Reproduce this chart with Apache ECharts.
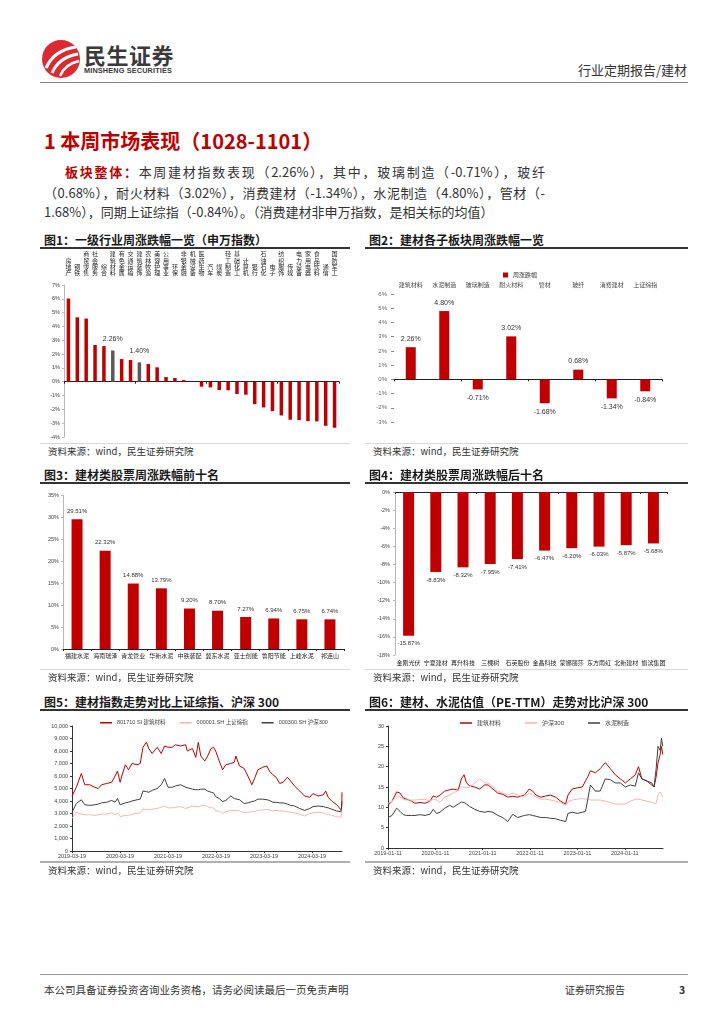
<!DOCTYPE html>
<html><head><meta charset="utf-8">
<script src="https://cdn.jsdelivr.net/npm/echarts@6/dist/echarts.min.js"></script>
<style>
body{margin:0;width:724px;height:1024px;background:#fff;position:relative;font-family:"Noto Sans CJK SC",sans-serif;overflow:hidden}
.abs{position:absolute}
.cap{position:absolute;font-size:12px;line-height:1;font-weight:bold;color:#1a1a1a;white-space:nowrap}
.capline{position:absolute;height:1.5px;background:#333}
.src{position:absolute;font-size:9.5px;line-height:1;color:#333;white-space:nowrap}
.srcline{position:absolute;height:1px;background:#d9d9d9}
.para{position:absolute;font-size:13px;line-height:1;color:#333;white-space:nowrap}
.jus{text-align:justify;text-align-last:justify}
.chart{position:absolute}
</style></head>
<body>
<svg class="abs" style="left:41px;top:39px" width="40" height="40" viewBox="0 0 40 40">
<circle cx="20" cy="20" r="19" fill="#dc2a32"/>
<path d="M5 29 Q13 11 35 8" stroke="#fff" stroke-width="3.2" fill="none"/>
<path d="M11 34 Q18 18 37 15" stroke="#fff" stroke-width="3" fill="none"/>
<path d="M19 37 Q24 25 38 22" stroke="#fff" stroke-width="2.4" fill="none"/>
</svg>
<div class="abs" style="left:84px;top:43px;font-size:22px;line-height:1;font-weight:bold;color:#3a3a3a;letter-spacing:0.5px">民生证券</div>
<div class="abs" style="left:84px;top:67px;font-size:7.3px;line-height:1;font-weight:bold;color:#3a3a3a;font-family:'Liberation Sans',sans-serif;letter-spacing:0.15px">MINSHENG SECURITIES</div>
<div class="abs" style="left:578px;top:63px;font-size:13px;line-height:1;color:#333;white-space:nowrap">行业定期报告/建材</div>
<div class="abs" style="left:40px;top:82px;width:648px;height:1px;background:#8a8a8a"></div>

<div class="abs" style="left:44px;top:131px;font-size:20px;line-height:1;font-weight:bold;color:#c00000;white-space:nowrap">1 本周市场表现（1028-1101）</div>

<div class="para jus" style="left:65px;top:165px;width:480px"><span style="color:#c00000;font-weight:bold">板块整体：</span>本周建材指数表现（2.26%），其中，玻璃制造（-0.71%），玻纤</div>
<div class="para jus" style="left:44px;top:186px;width:501px">（0.68%），耐火材料（3.02%），消费建材（-1.34%），水泥制造（4.80%），管材（-</div>
<div class="para" style="left:44px;top:205px">1.68%），同期上证综指（-0.84%）。（消费建材非申万指数，是相关标的均值）</div>

<div id="c1" class="chart" style="left:40px;top:250px;width:310px;height:192px"></div>
<div id="c2" class="chart" style="left:365px;top:250px;width:310px;height:190px"></div>
<div id="c3" class="chart" style="left:40px;top:483px;width:310px;height:185px"></div>
<div id="c4" class="chart" style="left:365px;top:483px;width:310px;height:190px"></div>
<div id="c5" class="chart" style="left:40px;top:713px;width:310px;height:150px"></div>
<div id="c6" class="chart" style="left:365px;top:713px;width:310px;height:150px"></div>

<div class="cap" style="left:44px;top:234px">图1：一级行业周涨跌幅一览（申万指数）</div>
<div class="capline" style="left:40px;top:247px;width:310px"></div>
<div class="cap" style="left:369px;top:234px">图2：建材各子板块周涨跌幅一览</div>
<div class="capline" style="left:365px;top:247px;width:323px"></div>
<div class="srcline" style="left:40px;top:443px;width:310px"></div>
<div class="srcline" style="left:365px;top:443px;width:323px"></div>
<div class="src" style="left:48px;top:447px">资料来源：wind，民生证券研究院</div>
<div class="src" style="left:373px;top:447px">资料来源：wind，民生证券研究院</div>

<div class="cap" style="left:44px;top:469px">图3：建材类股票周涨跌幅前十名</div>
<div class="capline" style="left:40px;top:482px;width:310px"></div>
<div class="cap" style="left:369px;top:469px">图4：建材类股票周涨跌幅后十名</div>
<div class="capline" style="left:365px;top:482px;width:323px"></div>
<div class="srcline" style="left:40px;top:669px;width:310px"></div>
<div class="srcline" style="left:365px;top:669px;width:323px"></div>
<div class="src" style="left:48px;top:673px">资料来源：wind，民生证券研究院</div>
<div class="src" style="left:373px;top:673px">资料来源：wind，民生证券研究院</div>

<div class="cap" style="left:44px;top:696px">图5：建材指数走势对比上证综指、沪深 300</div>
<div class="capline" style="left:40px;top:709px;width:310px"></div>
<div class="cap" style="left:369px;top:696px">图6：建材、水泥估值（PE-TTM）走势对比沪深 300</div>
<div class="capline" style="left:365px;top:709px;width:323px"></div>
<div class="srcline" style="left:40px;top:861px;width:310px;height:1.5px;background:#b0b0b0"></div>
<div class="srcline" style="left:365px;top:861px;width:323px;height:1.5px;background:#b0b0b0"></div>
<div class="src" style="left:48px;top:866px">资料来源：wind，民生证券研究院</div>
<div class="src" style="left:373px;top:866px">资料来源：wind，民生证券研究院</div>

<div class="abs" style="left:40px;top:974px;width:648px;height:1px;background:#999"></div>
<div class="abs" style="left:44px;top:985px;font-size:10.5px;line-height:1;color:#333;white-space:nowrap">本公司具备证券投资咨询业务资格，请务必阅读最后一页免责声明</div>
<div class="abs" style="left:565px;top:985px;font-size:10px;line-height:1;color:#333;white-space:nowrap">证券研究报告</div>
<div class="abs" style="left:679px;top:985px;font-size:10.5px;line-height:1;color:#333;font-weight:bold">3</div>

<script>
// ---------- DATA ----------
const indNames = ['房地产','钢铁','商贸零售','社会服务','综合','建筑材料','有色金属','交通运输','建筑装饰','农林牧渔','美容护理','公用事业','环保','非银金融','机械设备','医药生物','汽车','煤炭','轻工制造','基础化工','计算机','银行','石油石化','电子','纺织服饰','传媒','电力设备','家用电器','食品饮料','通信','国防军工'];
const indValues = [6.02,4.66,4.57,2.66,2.58,2.26,1.64,1.57,1.40,1.28,1.04,0.34,0.27,0.12,0.00,-0.36,-0.41,-0.60,-0.62,-0.89,-0.94,-1.62,-1.86,-2.13,-2.44,-2.75,-2.78,-2.85,-2.87,-3.19,-3.33];
const indHighlight = ['建筑材料','建筑装饰'];

const subNames = ['建筑材料','水泥制造','玻璃制造','耐火材料','管材','玻纤','消费建材','上证综指'];
const subValues = [2.26,4.80,-0.71,3.02,-1.68,0.68,-1.34,-0.84];
const subLegend = '周涨跌幅';

const topNames = ['福建水泥','海南瑞泽','青龙管业','华新水泥','中铁装配','冀东水泥','亚士创能','鲁阳节能','上峰水泥','祁连山'];
const topValues = [29.51,22.32,14.88,13.79,9.20,8.70,7.27,6.94,6.75,6.74];

const botNames = ['金刚光伏','宁夏建材','再升科技','三棵树','石英股份','金晶科技','蒙娜丽莎','东方雨虹','北新建材','旗滨集团'];
const botValues = [-15.87,-8.83,-8.32,-7.95,-7.41,-6.47,-6.20,-6.03,-5.87,-5.68];

const idxStart = '2019-03-19', idxEnd = '2024-11-01';
const idxTickLabels = ['2019-03-19','2020-03-19','2021-03-19','2022-03-19','2023-03-19','2024-03-19'];
const idxNames = ['801710.SI 建筑材料','000001.SH 上证综指','000300.SH 沪深300'];
const idxDates = ['2019-03-19','2019-04-21','2019-05-29','2019-06-24','2019-08-01','2019-09-08','2019-10-04','2019-10-30','2019-12-07','2020-01-15','2020-02-10','2020-02-28','2020-03-19','2020-04-01','2020-04-28','2020-05-22','2020-06-17','2020-07-26','2020-08-19','2020-09-09','2020-10-05','2020-10-23','2020-11-18','2020-12-26','2021-01-26','2021-02-20','2021-03-19','2021-04-19','2021-05-13','2021-06-22','2021-07-31','2021-08-12','2021-09-20','2021-10-16','2021-11-04','2021-11-23','2021-12-23','2022-01-14','2022-02-09','2022-02-28','2022-03-16','2022-04-12','2022-05-08','2022-06-01','2022-07-09','2022-08-04','2022-08-17','2022-09-13','2022-10-19','2022-11-16','2022-12-16','2023-01-06','2023-01-31','2023-03-09','2023-04-10','2023-04-28','2023-05-25','2023-06-19','2023-07-16','2023-08-11','2023-09-13','2023-10-07','2023-11-06','2023-12-15','2024-01-22','2024-03-01','2024-03-25','2024-05-03','2024-06-12','2024-06-30','2024-07-19','2024-08-15','2024-09-22','2024-10-24','2024-10-30','2024-11-01'];
const idxJc = [4400,5100,6200,5300,5300,5100,5000,5300,5400,5500,6000,6400,5500,6000,6900,6500,7000,6900,7000,8300,8700,8200,7800,8300,7800,8400,8300,8300,8500,8400,8500,8000,8200,7500,8700,7600,7200,7600,8200,8300,8000,7200,6500,6900,7000,7100,7600,6800,6600,6000,5300,5800,6500,6700,6800,6400,6100,5900,5400,5500,5900,5600,5200,4800,4400,4300,4600,4400,4500,4800,4300,4000,3700,3300,3500,4700];
const idxSz = [2600,3100,2950,2900,2900,2850,2900,2950,2950,3050,2900,3050,2750,2800,2850,2850,2950,3000,3050,3350,3300,3300,3350,3400,3500,3600,3450,3450,3500,3550,3400,3550,3600,3550,3550,3600,3650,3550,3450,3450,3200,3200,3000,3150,3250,3250,3300,3200,3050,3100,3150,3150,3250,3300,3300,3300,3200,3250,3200,3200,3150,3100,3050,2950,2800,3000,3050,3100,3050,2950,2950,2850,2750,2700,2800,3300];
const idxHs = [3100,3800,4100,3700,3650,3700,3750,3850,3900,4050,3900,4200,3700,3750,3850,3900,4000,4100,4150,4800,4750,4700,4850,5000,5300,5800,5100,5100,5200,5300,5100,5000,4950,4900,4900,4950,4950,4800,4700,4650,4350,4200,3950,4050,4400,4200,4300,4100,3800,3850,3950,4000,4150,4150,4100,4050,3900,3900,3850,3850,3750,3650,3600,3400,3250,3400,3550,3600,3550,3500,3450,3350,3200,3150,3300,3950];

const peStart = '2019-01-11', peEnd = '2024-11-01';
const peTickLabels = ['2019-01-11','2020-01-11','2021-01-11','2022-01-11','2023-01-11','2024-01-11'];
const peNames = ['建筑材料','沪深300','水泥制造'];
const peDates = ['2019-01-11','2019-02-11','2019-03-19','2019-04-14','2019-05-09','2019-06-04','2019-07-12','2019-08-07','2019-09-15','2019-10-23','2019-11-30','2019-12-26','2020-01-21','2020-02-16','2020-03-24','2020-05-01','2020-05-27','2020-07-05','2020-07-30','2020-08-20','2020-09-07','2020-10-02','2020-11-10','2020-12-18','2021-01-26','2021-02-21','2021-03-30','2021-05-07','2021-06-14','2021-07-22','2021-08-30','2021-10-07','2021-11-28','2022-01-05','2022-01-31','2022-02-26','2022-04-04','2022-05-12','2022-06-19','2022-07-27','2022-09-04','2022-10-12','2022-10-30','2022-12-02','2023-01-10','2023-02-18','2023-03-14','2023-04-01','2023-04-21','2023-05-29','2023-07-06','2023-08-14','2023-09-22','2023-10-30','2023-12-08','2024-01-16','2024-02-23','2024-04-01','2024-04-26','2024-05-22','2024-06-29','2024-08-06','2024-08-24','2024-09-09','2024-09-24','2024-10-10','2024-10-20','2024-10-30'];
const peJc = [10.5,11.5,13.8,13.5,12.3,12.0,11.5,11.0,11.2,11.0,11.5,12.8,12.5,13.0,14.0,14.3,14.5,14.2,17.0,18.0,16.0,15.3,15.0,14.5,15.5,15.5,14.5,13.5,13.2,12.5,12.7,12.5,13.0,14.5,14.0,13.0,12.5,12.8,13.0,12.5,11.5,10.8,13.0,14.5,14.8,15.0,16.5,17.5,19.0,18.5,19.5,21.0,19.5,18.0,17.0,16.0,17.0,18.0,20.0,17.0,16.5,15.5,15.0,17.5,21.0,23.0,25.0,23.0];
const peHs = [11.0,11.5,12.8,12.5,12.0,11.8,11.8,11.8,11.9,12.0,11.5,12.0,11.8,11.2,12.5,13.0,13.5,14.2,15.0,15.0,14.8,15.0,16.0,17.0,16.0,16.0,15.0,14.0,13.5,13.0,13.5,13.0,12.5,13.5,13.0,12.5,12.0,12.0,11.8,11.5,11.2,10.5,11.3,11.8,12.0,12.2,12.0,12.0,11.8,11.8,11.8,11.5,11.2,10.8,10.8,10.8,11.5,12.0,12.0,11.8,11.5,11.2,11.0,11.0,13.0,13.8,13.5,12.5];
const peCem = [7.5,8.0,9.8,9.0,8.2,8.0,8.0,8.0,8.2,8.0,8.3,9.5,8.5,8.8,9.8,10.5,10.0,10.8,11.3,11.2,10.8,10.2,9.5,9.0,8.8,9.0,8.8,8.0,7.5,6.5,8.3,7.5,8.0,8.2,8.0,7.8,7.5,7.5,7.3,7.2,6.8,6.5,8.5,8.8,8.5,8.8,9.0,12.0,15.5,14.0,14.0,17.0,16.8,16.0,16.0,15.0,15.5,15.2,18.5,17.0,16.5,16.0,15.0,19.5,25.0,24.0,27.0,25.0];

// ---------- RENDER ----------
const FONT = '"Liberation Sans","Noto Sans CJK SC",sans-serif';
const RED = '#c00000', GRAY = '#5a5a5a', PINK = '#f6b4b8', DARK = '#3f3f3f';
const DAY = 86400000, YEAR = 365.25;
function mk(id){ return echarts.init(document.getElementById(id), null, {renderer:'canvas'}); }
const pct = p => Number(p.value).toFixed(2) + '%';

// Chart 1
mk('c1').setOption({
  animation:false, textStyle:{fontFamily:FONT},
  grid:{left:24,right:11,top:35,bottom:5},
  xAxis:[
    {type:'category',data:indNames,axisLine:{onZero:true,lineStyle:{color:'#222',width:1}},axisTick:{show:true,length:2,lineStyle:{color:'#222'}},axisLabel:{show:false}},
    {type:'category',data:indNames,position:'top',axisLine:{show:false,onZero:false},axisTick:{show:false},
     axisLabel:{interval:0,fontSize:6,lineHeight:6.3,color:'#222',margin:9,fontFamily:'"Noto Sans CJK SC",sans-serif',formatter:s=>s.split('').join('\n')}}
  ],
  yAxis:{type:'value',min:-4,max:7,interval:1,axisLine:{show:true,lineStyle:{color:'#b8b8b8'}},axisTick:{show:true,length:2,lineStyle:{color:'#b8b8b8'}},splitLine:{show:false},
    axisLabel:{fontSize:5.5,color:'#444',margin:4,formatter:v=>v+'%'}},
  series:[{type:'bar',barWidth:3.5,xAxisIndex:0,
    data:indValues.map((v,i)=>{
      const hi = indHighlight.includes(indNames[i]);
      return {value:v,itemStyle:{color:hi?GRAY:RED},label:{show:hi,position:'top',distance:8,fontSize:7,color:'#333',formatter:pct}};
    })}]
});

// Chart 2
mk('c2').setOption({
  animation:false, textStyle:{fontFamily:FONT},
  grid:{left:29,right:13,top:44,bottom:18},
  legend:{top:17,left:'center',icon:'rect',itemWidth:5,itemHeight:5,textStyle:{fontSize:6,color:'#333'},data:[subLegend]},
  xAxis:[
    {type:'category',data:subNames,axisLine:{onZero:true,lineStyle:{color:'#222'}},axisTick:{show:true,length:2,lineStyle:{color:'#222'}},axisLabel:{show:false}},
    {type:'category',data:subNames,position:'top',axisLine:{show:false,onZero:false},axisTick:{show:false},axisLabel:{interval:0,fontSize:6,color:'#444',margin:6}}
  ],
  yAxis:{type:'value',min:-3,max:6,interval:1,axisLine:{show:false},axisTick:{show:true,length:3,lineStyle:{color:'#888'}},splitLine:{show:false},
    axisLabel:{fontSize:6,color:'#666',margin:7,formatter:v=>v+'%'}},
  series:[{name:subLegend,type:'bar',barWidth:10,itemStyle:{color:RED},
    label:{show:true,fontSize:7,color:'#333',distance:5,formatter:pct},
    data:subValues.map(v=>({value:v,label:{position:v>=0?'top':'bottom'}}))}]
});

// Chart 3
mk('c3').setOption({
  animation:false, textStyle:{fontFamily:FONT},
  grid:{left:23,right:6,top:12,bottom:19},
  xAxis:{type:'category',data:topNames,axisLine:{lineStyle:{color:'#222'}},axisTick:{show:true,length:2,lineStyle:{color:'#222'}},axisLabel:{interval:0,fontSize:6,color:'#222',margin:4}},
  yAxis:{type:'value',min:0,max:35,interval:5,axisLine:{show:true,lineStyle:{color:'#b8b8b8'}},axisTick:{show:true,length:2,lineStyle:{color:'#b8b8b8'}},splitLine:{show:false},
    axisLabel:{fontSize:5.5,color:'#444',margin:4,formatter:v=>v+'%'}},
  series:[{type:'bar',barWidth:11,data:topValues,itemStyle:{color:RED},
    label:{show:true,position:'top',distance:5,fontSize:6,color:'#333',formatter:pct}}]
});

// Chart 4
mk('c4').setOption({
  animation:false, textStyle:{fontFamily:FONT},
  grid:{left:30,right:8,top:9,bottom:18},
  xAxis:[
    {type:'category',data:botNames,position:'top',axisLine:{onZero:false,lineStyle:{color:'#222'}},axisTick:{show:true,length:2,inside:true,lineStyle:{color:'#222'}},axisLabel:{show:false}},
    {type:'category',data:botNames,position:'bottom',axisLine:{show:false,onZero:false},axisTick:{show:false},axisLabel:{interval:0,fontSize:6,color:'#222',margin:5}}
  ],
  yAxis:{type:'value',min:-18,max:0,interval:2,axisLine:{show:true,lineStyle:{color:'#b8b8b8'}},axisTick:{show:true,length:2,lineStyle:{color:'#b8b8b8'}},splitLine:{show:false},
    axisLabel:{fontSize:5.5,color:'#444',margin:5,formatter:v=>v+'%'}},
  series:[{type:'bar',barWidth:11,data:botValues,itemStyle:{color:RED},
    label:{show:true,position:'bottom',distance:5,fontSize:6,color:'#333',formatter:pct}}]
});

// Line charts
function days(d, s){ return (Date.parse(d) - Date.parse(s)) / DAY; }
function tickFmt(labels){
  return v => { const k = v / YEAR, r = Math.round(k); return (Math.abs(k - r) < 1e-6 && r < labels.length) ? labels[r] : ''; };
}
function lineChart(id, start, end, tickLabels, dates, seriesNames, seriesData, colors, yMax, yInt, yFmt, gridLeft, gridRight, gridBottom, legendLeft, legendGap, legendFont){
  mk(id).setOption({
    animation:false, textStyle:{fontFamily:FONT},
    grid:{left:gridLeft,right:gridRight,top:13,bottom:gridBottom},
    legend:{top:2,left:legendLeft,width:300,orient:'horizontal',icon:'rect',itemWidth:12,itemHeight:1.5,itemGap:legendGap,textStyle:{fontSize:legendFont,color:'#444'},data:seriesNames},
    xAxis:{type:'value',min:0,max:days(end,start),interval:YEAR,
      axisLine:{lineStyle:{color:'#333'}},axisTick:{show:true,length:2,lineStyle:{color:'#333'}},splitLine:{show:false},
      axisLabel:{fontSize:5.5,color:'#444',margin:3,showMaxLabel:false,formatter:tickFmt(tickLabels)}},
    yAxis:{type:'value',min:0,max:yMax,interval:yInt,axisLine:{show:true,lineStyle:{color:'#333'}},axisTick:{show:true,length:2,lineStyle:{color:'#333'}},splitLine:{show:false},
      axisLabel:{fontSize:5.5,color:'#444',margin:4,formatter:yFmt}},
    series:seriesNames.map((n,i)=>({name:n,type:'line',showSymbol:false,symbol:'none',color:colors[i],
      lineStyle:{width:1,color:colors[i]},data:dates.map((d,j)=>[days(d,start),seriesData[i][j]])}))
  });
}
lineChart('c5', idxStart, idxEnd, idxTickLabels, idxDates, idxNames, [idxJc,idxSz,idxHs], [RED,PINK,DARK],
  10000, 1000, v=>v.toLocaleString('en-US'), 32, 8, 12, 55, 14, 5.5);
lineChart('c6', peStart, peEnd, peTickLabels, peDates, peNames, [peJc,peHs,peCem], [RED,PINK,DARK],
  30, 5, v=>String(v), 23, 12, 15, 90, 24, 6);
</script>
</body></html>
